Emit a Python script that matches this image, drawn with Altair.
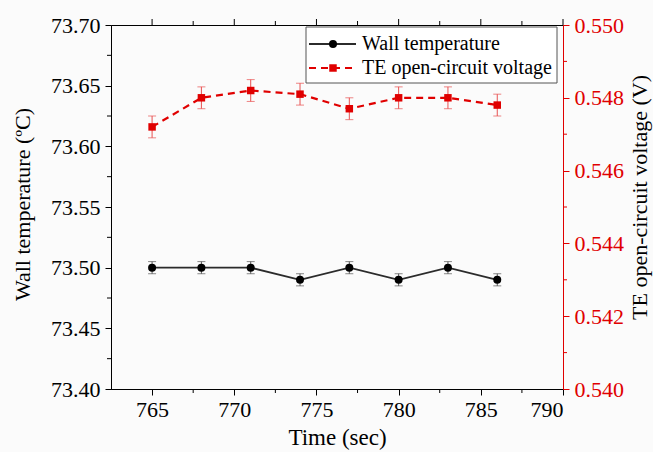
import altair as alt
import pandas as pd

# Measurements
time = [765, 768, 771, 774, 777, 780, 783, 786]
wall_temp = [73.50, 73.50, 73.50, 73.49, 73.50, 73.49, 73.50, 73.49]
wall_err = [0.005] * 8
voltage = [0.5472, 0.5480, 0.5482, 0.5481, 0.5477, 0.5480, 0.5480, 0.5478]
volt_err = [0.0003] * 8

# Axis ticks
x_major = [765, 770, 775, 780, 785, 790]
x_minor = [767.5, 772.5, 777.5, 782.5, 787.5]
left_major = [73.40, 73.45, 73.50, 73.55, 73.60, 73.65, 73.70]
left_minor = [73.425, 73.475, 73.525, 73.575, 73.625, 73.675]
right_major = [0.540, 0.542, 0.544, 0.546, 0.548, 0.550]
right_minor = [0.541, 0.543, 0.545, 0.547, 0.549]

FONT = "Liberation Serif"
FS = 22
RED = "#e00000"
DARK = "#2b2b2b"
W, H = 452, 364

df = pd.DataFrame({
    "time": time,
    "wall": wall_temp,
    "wall_lo": [v - e for v, e in zip(wall_temp, wall_err)],
    "wall_hi": [v + e for v, e in zip(wall_temp, wall_err)],
    "volt": voltage,
    "volt_lo": [v - e for v, e in zip(voltage, volt_err)],
    "volt_hi": [v + e for v, e in zip(voltage, volt_err)],
})

common = dict(labelFont=FONT, titleFont=FONT, labelFontSize=FS,
              titleFontWeight="normal", titleColor="black", tickSize=6, grid=False)

x_scale = alt.Scale(domain=[762.5, 790], nice=False, zero=False)
x_axis = alt.Axis(values=x_major, title="Time (sec)", labelColor="black",
                  domainColor="black", tickColor="black", labelPadding=4,
                  titleFontSize=23, titleX=W / 2, titleY=48, titleBaseline="middle",
                  titleAlign="center", **common)
X = alt.X("time:Q", scale=x_scale, axis=x_axis)

ls = alt.Scale(domain=[73.40, 73.70], nice=False, zero=False)
l_axis = alt.Axis(values=left_major, format=".2f", orient="left",
                  title="Wall temperature (ºC)", labelColor="black",
                  domainColor="black", tickColor="black", labelPadding=5,
                  titleFontSize=22, titleX=-89, titleY=179, titleAngle=270,
                  titleBaseline="middle", titleAlign="center", **common)

rs = alt.Scale(domain=[0.540, 0.550], nice=False, zero=False)
r_axis = alt.Axis(values=right_major, format=".3f", orient="right",
                  title="TE open-circuit voltage (V)", labelColor=RED,
                  domainColor=RED, tickColor=RED, labelPadding=5,
                  titleFontSize=22, titleX=76, titleY=172, titleAngle=270,
                  titleBaseline="middle", titleAlign="center", **common)

base = alt.Chart(df)

# Wall temperature series (left axis)
wall_line = base.mark_line(color=DARK, strokeWidth=1.8).encode(
    x=X, y=alt.Y("wall:Q", scale=ls, axis=l_axis))
wall_bar = base.mark_rule(color="#555555", strokeWidth=1).encode(
    x=X, y=alt.Y("wall_lo:Q", scale=ls, axis=l_axis), y2="wall_hi:Q")
wall_cap_lo = base.mark_tick(color="#555555", orient="horizontal", size=8, thickness=1).encode(
    x=X, y=alt.Y("wall_lo:Q", scale=ls, axis=l_axis))
wall_cap_hi = base.mark_tick(color="#555555", orient="horizontal", size=8, thickness=1).encode(
    x=X, y=alt.Y("wall_hi:Q", scale=ls, axis=l_axis))
wall_pts = base.mark_point(shape="circle", filled=True, color="black", size=64, opacity=1).encode(
    x=X, y=alt.Y("wall:Q", scale=ls, axis=l_axis))
l_minor = alt.Chart(pd.DataFrame({"wall": left_minor})).mark_rule(color="black").encode(
    y=alt.Y("wall:Q", scale=ls, axis=l_axis), x=alt.value(0), x2=alt.value(-4))

wall_group = alt.layer(wall_line, wall_bar, wall_cap_lo, wall_cap_hi, wall_pts, l_minor)

# Voltage series (right axis)
volt_line = base.mark_line(color=RED, strokeWidth=2.2, strokeDash=[7, 5]).encode(
    x=X, y=alt.Y("volt:Q", scale=rs, axis=r_axis))
volt_bar = base.mark_rule(color="#e85050", strokeWidth=1).encode(
    x=X, y=alt.Y("volt_lo:Q", scale=rs, axis=r_axis), y2="volt_hi:Q")
volt_cap_lo = base.mark_tick(color="#e85050", orient="horizontal", size=8, thickness=1).encode(
    x=X, y=alt.Y("volt_lo:Q", scale=rs, axis=r_axis))
volt_cap_hi = base.mark_tick(color="#e85050", orient="horizontal", size=8, thickness=1).encode(
    x=X, y=alt.Y("volt_hi:Q", scale=rs, axis=r_axis))
volt_pts = base.mark_point(shape="square", filled=True, color=RED, size=56, opacity=1).encode(
    x=X, y=alt.Y("volt:Q", scale=rs, axis=r_axis))
r_minor = alt.Chart(pd.DataFrame({"volt": right_minor})).mark_rule(color=RED).encode(
    y=alt.Y("volt:Q", scale=rs, axis=r_axis), x=alt.value(W), x2=alt.value(W + 4))

volt_group = alt.layer(volt_line, volt_bar, volt_cap_lo, volt_cap_hi, volt_pts, r_minor)

# Extra x ticks: minor on bottom, major and minor on top
xt_minor_bottom = alt.Chart(pd.DataFrame({"time": x_minor})).mark_rule(color="black").encode(
    x=X, y=alt.value(H), y2=alt.value(H + 4))
xt_major_top = alt.Chart(pd.DataFrame({"time": x_major})).mark_rule(color="black").encode(
    x=X, y=alt.value(0), y2=alt.value(-6))
xt_minor_top = alt.Chart(pd.DataFrame({"time": x_minor})).mark_rule(color="black").encode(
    x=X, y=alt.value(0), y2=alt.value(-4))

# Legend box
LFS = 20
one = pd.DataFrame({"k": [0]})
leg = alt.Chart(one)
LX0, LX1, LY0, LY1 = 195, 446, 2, 58
R1, R2 = 19, 43
leg_box = leg.mark_rect(fill="white", stroke="#555555", strokeWidth=1).encode(
    x=alt.value(LX0), x2=alt.value(LX1), y=alt.value(LY0), y2=alt.value(LY1))
leg_l1 = leg.mark_rule(color=DARK, strokeWidth=1.8).encode(
    x=alt.value(198), x2=alt.value(245), y=alt.value(R1))
leg_p1 = leg.mark_point(shape="circle", filled=True, color="black", size=64, opacity=1).encode(
    x=alt.value(222), y=alt.value(R1))
leg_t1 = leg.mark_text(text="Wall temperature", font=FONT, fontSize=LFS, align="left",
                       baseline="middle", color="black").encode(x=alt.value(251), y=alt.value(R1))
leg_l2 = leg.mark_rule(color=RED, strokeWidth=2.2, strokeDash=[7, 5]).encode(
    x=alt.value(198), x2=alt.value(245), y=alt.value(R2))
leg_p2 = leg.mark_point(shape="square", filled=True, color=RED, size=56, opacity=1).encode(
    x=alt.value(222), y=alt.value(R2))
leg_t2 = leg.mark_text(text="TE open-circuit voltage", font=FONT, fontSize=LFS, align="left",
                       baseline="middle", color="black").encode(x=alt.value(251), y=alt.value(R2))

chart = alt.layer(
    wall_group, volt_group,
    xt_minor_bottom, xt_major_top, xt_minor_top,
    leg_box, leg_l1, leg_p1, leg_t1, leg_l2, leg_p2, leg_t2,
).resolve_scale(y="independent").properties(
    width=W, height=H,
    background="#fbfbfb",
    padding={"left": 111, "top": 25, "right": 90, "bottom": 63},
    autosize=alt.AutoSizeParams(type="none"),
).configure_view(stroke="black", strokeWidth=1, fill="#fbfbfb")

chart.save("out.html", embed_options={"renderer": "svg", "actions": False})
